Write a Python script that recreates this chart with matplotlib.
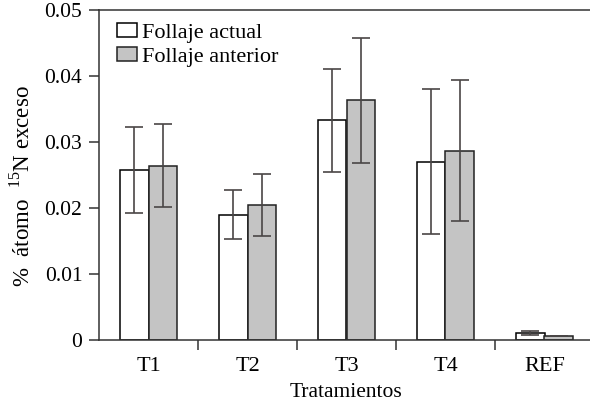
import matplotlib.pyplot as plt
import numpy as np

plt.rcParams['font.family'] = ['Liberation Serif', 'DejaVu Serif']
plt.rcParams['mathtext.fontset'] = 'custom'
plt.rcParams['mathtext.rm'] = 'Liberation Serif'

#data
tratamientos = ["T1", "T2", "T3", "T4", "REF"]
actual = [0.0258, 0.0190, 0.0333, 0.0270, 0.0011]
actual_err = [0.0065, 0.0037, 0.0078, 0.0110, 0.0003]
anterior = [0.0264, 0.0204, 0.0363, 0.0287, 0.0006]
anterior_err = [0.0063, 0.0047, 0.0095, 0.0107, 0.0]

fig = plt.figure(figsize=(5.9, 4.05), dpi=100)
ax = fig.add_axes([99/590, 1-340/405, 495/590, 330/405])

x = np.arange(len(tratamientos))
w = 0.29
err_c = "#4a4646"
ax.bar(x-w/2, actual, w, color="white", edgecolor="black", lw=1.1,
       label="Follaje actual", zorder=2)
ax.bar(x+w/2, anterior, w, color="#c4c4c4", edgecolor="#222222", lw=1.1,
       label="Follaje anterior", zorder=2)
ax.errorbar(x-w/2, actual, yerr=actual_err, fmt="none", ecolor=err_c,
            elinewidth=1.2, capsize=6.5, capthick=1.2, zorder=3)
ax.errorbar(x+w/2, anterior, yerr=anterior_err, fmt="none", ecolor=err_c,
            elinewidth=1.2, capsize=6.5, capthick=1.2, zorder=3)

ax.set_xlim(-0.5, 4.5)
ax.set_ylim(0, 0.05)
ax.set_yticks([0, 0.01, 0.02, 0.03, 0.04, 0.05])
ax.set_yticklabels(["0", "0.01", "0.02", "0.03", "0.04", "0.05"])
ax.set_xticks(x)
ax.set_xticklabels(tratamientos)
ax.set_xticks([0.5, 1.5, 2.5, 3.5], minor=True)
ax.tick_params(axis="x", which="major", length=0, pad=12, labelsize=16)
ax.tick_params(axis="x", which="minor", length=7, width=1.1, color="#333333")
ax.tick_params(axis="y", length=7, width=1.1, color="#333333",
               labelsize=15.5, pad=5)
for s in ["left", "bottom", "top"]:
    ax.spines[s].set_color("#333333")
    ax.spines[s].set_linewidth(1.1)
ax.spines["right"].set_visible(False)

ax.set_xlabel("Tratamientos", fontsize=15.5, labelpad=5)
ax.set_ylabel("%  átomo  $^{15}$N exceso", fontsize=16.5)
ax.yaxis.set_label_coords(-0.13, 0.465)

ax.legend(loc="upper left", frameon=False, fontsize=16, handlelength=0.9,
          handleheight=0.55, handletextpad=0.2, labelspacing=0.2,
          borderaxespad=0.2, bbox_to_anchor=(0.01, 1.0))

plt.savefig("out.png", dpi=100)
